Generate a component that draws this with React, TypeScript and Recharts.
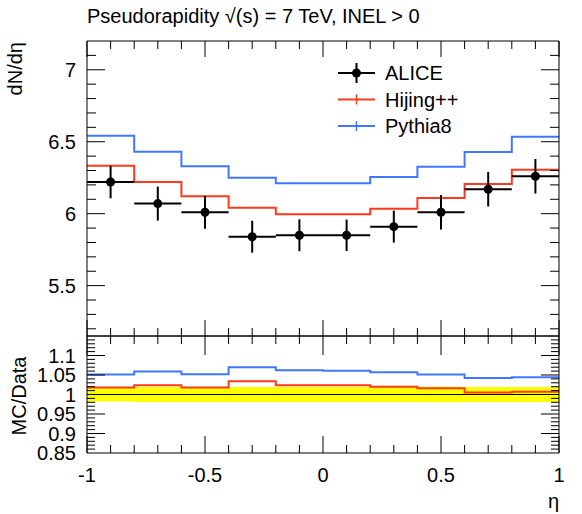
import { ComposedChart, Line, Scatter, ErrorBar, Area, XAxis, YAxis, ReferenceLine } from "recharts";

// eta binning
const binEdges = [-1, -0.8, -0.6, -0.4, -0.2, 0, 0.2, 0.4, 0.6, 0.8, 1];
const binCentres = [-0.9, -0.7, -0.5, -0.3, -0.1, 0.1, 0.3, 0.5, 0.7, 0.9];

// dN/deta per bin
const aliceValues = [6.22, 6.07, 6.01, 5.84, 5.85, 5.85, 5.91, 6.01, 6.17, 6.26];
const aliceErrors = [0.113, 0.118, 0.115, 0.111, 0.111, 0.109, 0.111, 0.12, 0.12, 0.12];
const hijingValues = [6.333, 6.22, 6.121, 6.042, 5.996, 5.996, 6.035, 6.109, 6.206, 6.306];
const pythiaValues = [6.542, 6.431, 6.329, 6.25, 6.211, 6.211, 6.255, 6.327, 6.429, 6.535];

// MC/Data ratios and the data uncertainty band
const hijingRatio = [1.018, 1.024, 1.018, 1.034, 1.024, 1.024, 1.02, 1.016, 1.005, 1.007];
const pythiaRatio = [1.051, 1.059, 1.052, 1.07, 1.062, 1.061, 1.057, 1.051, 1.042, 1.044];
const bandLow = [0.982, 0.981, 0.981, 0.981, 0.981, 0.981, 0.981, 0.98, 0.981, 0.981];
const bandHigh = [1.018, 1.019, 1.019, 1.019, 1.019, 1.019, 1.019, 1.02, 1.019, 1.019];

// axis ticks
const xTicks = [-1, -0.9, -0.8, -0.7, -0.6, -0.5, -0.4, -0.3, -0.2, -0.1, 0, 0.1, 0.2, 0.3, 0.4, 0.5, 0.6, 0.7, 0.8, 0.9, 1];
const yTicks = [5.2, 5.3, 5.4, 5.5, 5.6, 5.7, 5.8, 5.9, 6, 6.1, 6.2, 6.3, 6.4, 6.5, 6.6, 6.7, 6.8, 6.9, 7, 7.1];
const ratioTicks = [
  0.86, 0.87, 0.88, 0.89, 0.9, 0.91, 0.92, 0.93, 0.94, 0.95, 0.96, 0.97, 0.98, 0.99, 1,
  1.01, 1.02, 1.03, 1.04, 1.05, 1.06, 1.07, 1.08, 1.09, 1.1, 1.11, 1.12, 1.13, 1.14,
];
const ratioLabels = [0.85, 0.9, 0.95, 1, 1.05, 1.1];

const X_DOMAIN: [number, number] = [-1, 1];
const MAIN_DOMAIN: [number, number] = [5.15, 7.2];
const RATIO_DOMAIN: [number, number] = [0.85, 1.15];

// plot area sizes in px, used to turn tick lengths into axis units
const PLOT_W = 472;
const MAIN_H = 295;
const RATIO_H = 117;

const RED = "#ff3a1c";
const BLUE = "#3f78ff";
const AXIS = "#000";
const FONT = "'Liberation Sans', Arial, Helvetica, sans-serif";

// histogram drawn as a step line over the bin edges
const steps = (values: number[]) =>
  binEdges.map((x, i) => ({ x, y: values[Math.min(i, values.length - 1)] }));

const aliceData = binCentres.map((x, i) => ({ x, y: aliceValues[i], ex: 0.1, ey: aliceErrors[i] }));
const bandData = binEdges.map((x, i) => {
  const j = Math.min(i, bandLow.length - 1);
  return { x, band: [bandLow[j], bandHigh[j]] };
});

const near = (a: number, b: number) => Math.abs(a - b) < 1e-6;
const onStep = (v: number, step: number) => near(v / step, Math.round(v / step));
const fmt = (v: number) => String(Number(v.toFixed(2)));

const xMajor = (v: number) => onStep(v, 0.5);
const mainMajor = (v: number) => onStep(v, 0.5);
const ratioMajor = (v: number) => ratioLabels.some((l) => near(l, v));

const xLabel = (p: any) =>
  xMajor(p.payload.value) ? (
    <text x={p.x} y={p.y + 29} textAnchor="middle" fontSize={20} fontFamily={FONT} fill="#000">
      {fmt(p.payload.value)}
    </text>
  ) : (
    <g />
  );

const yLabel = (isLabel: (v: number) => boolean) => (p: any) =>
  isLabel(p.payload.value) ? (
    <text x={p.x - 11} y={p.y + 7} textAnchor="end" fontSize={20} fontFamily={FONT} fill="#000">
      {fmt(p.payload.value)}
    </text>
  ) : (
    <g />
  );

// frame plus ROOT-style inward ticks on all four sides
type Lens = { bottom: [number, number]; top: [number, number]; side: [number, number] };
const frame = (yDomain: [number, number], plotH: number, yList: number[], yMajor: (v: number) => boolean, lens: Lens, id: string) => {
  const [y0, y1] = yDomain;
  const yUnit = (px: number) => (px / plotH) * (y1 - y0);
  const xUnit = (px: number) => (px / PLOT_W) * (X_DOMAIN[1] - X_DOMAIN[0]);
  const marks = [];
  for (const v of xTicks) {
    const b = yUnit(xMajor(v) ? lens.bottom[0] : lens.bottom[1]);
    const t = yUnit(xMajor(v) ? lens.top[0] : lens.top[1]);
    marks.push(<ReferenceLine key={`${id}b${v}`} segment={[{ x: v, y: y0 }, { x: v, y: y0 + b }]} stroke={AXIS} ifOverflow="visible" />);
    marks.push(<ReferenceLine key={`${id}t${v}`} segment={[{ x: v, y: y1 }, { x: v, y: y1 - t }]} stroke={AXIS} ifOverflow="visible" />);
  }
  for (const v of yList) {
    const s = xUnit(yMajor(v) ? lens.side[0] : lens.side[1]);
    marks.push(<ReferenceLine key={`${id}l${v}`} segment={[{ x: -1, y: v }, { x: -1 + s, y: v }]} stroke={AXIS} ifOverflow="visible" />);
    marks.push(<ReferenceLine key={`${id}r${v}`} segment={[{ x: 1, y: v }, { x: 1 - s, y: v }]} stroke={AXIS} ifOverflow="visible" />);
  }
  marks.push(<ReferenceLine key={`${id}fl`} x={-1} stroke={AXIS} ifOverflow="visible" />);
  marks.push(<ReferenceLine key={`${id}fr`} x={1} stroke={AXIS} ifOverflow="visible" />);
  marks.push(<ReferenceLine key={`${id}fb`} y={y0} stroke={AXIS} ifOverflow="visible" />);
  marks.push(<ReferenceLine key={`${id}ft`} y={y1} stroke={AXIS} ifOverflow="visible" />);
  return marks;
};

const legendItems = [
  { name: "ALICE", color: "#000", marker: true },
  { name: "Hijing++", color: RED, marker: false },
  { name: "Pythia8", color: BLUE, marker: false },
];

const MainPanel = () => (
  <ComposedChart width={582} height={338} margin={{ top: 41, right: 23, bottom: 2, left: 27 }}>
    <XAxis dataKey="x" type="number" domain={X_DOMAIN} ticks={xTicks} interval={0} height={0}
      tick={false} tickLine={false} axisLine={false} allowDataOverflow />
    <YAxis type="number" domain={MAIN_DOMAIN} ticks={[5.5, 6, 6.5, 7]} interval={0} width={60}
      tickSize={0} tickMargin={0} tickLine={false} axisLine={false} tick={yLabel(mainMajor)} allowDataOverflow />

    <Line data={steps(pythiaValues)} dataKey="y" type="stepAfter" stroke={BLUE} strokeWidth={2} dot={false} activeDot={false} isAnimationActive={false} />
    <Line data={steps(hijingValues)} dataKey="y" type="stepAfter" stroke={RED} strokeWidth={2} dot={false} activeDot={false} isAnimationActive={false} />
    <Scatter data={aliceData} dataKey="y" fill="#000" isAnimationActive={false}
      shape={(p: any) => <circle cx={p.cx} cy={p.cy} r={4.5} fill="#000" />}>
      <ErrorBar dataKey="ey" direction="y" width={0} stroke="#000" strokeWidth={2} isAnimationActive={false} />
      <ErrorBar dataKey="ex" direction="x" width={0} stroke="#000" strokeWidth={2} isAnimationActive={false} />
    </Scatter>

    {frame(MAIN_DOMAIN, MAIN_H, yTicks, mainMajor, { bottom: [16, 8], top: [16, 8], side: [18, 9] }, "m")}
  </ComposedChart>
);

const RatioPanel = () => (
  <ComposedChart width={582} height={188} margin={{ top: 10, right: 23, bottom: 21, left: 27 }}>
    <XAxis dataKey="x" type="number" domain={X_DOMAIN} ticks={xTicks} interval={0} height={40}
      tickSize={0} tickMargin={0} tickLine={false} axisLine={false} tick={xLabel} allowDataOverflow />
    <YAxis type="number" domain={RATIO_DOMAIN} ticks={ratioLabels} interval={0} width={60}
      tickSize={0} tickMargin={0} tickLine={false} axisLine={false} tick={yLabel(ratioMajor)} allowDataOverflow />

    <Area data={bandData} dataKey="band" type="stepAfter" fill="#ffff00" fillOpacity={1} stroke="none" dot={false} activeDot={false} isAnimationActive={false} />
    <ReferenceLine y={1} stroke="#000" strokeWidth={1} />
    <Line data={steps(pythiaRatio)} dataKey="y" type="stepAfter" stroke={BLUE} strokeWidth={2} dot={false} activeDot={false} isAnimationActive={false} />
    <Line data={steps(hijingRatio)} dataKey="y" type="stepAfter" stroke={RED} strokeWidth={2} dot={false} activeDot={false} isAnimationActive={false} />

    {frame(RATIO_DOMAIN, RATIO_H, ratioTicks, ratioMajor, { bottom: [17, 8], top: [19, 8], side: [18, 8] }, "r")}
  </ComposedChart>
);

export default function App() {
  return (
    <div style={{ position: "absolute", left: 0, top: 0, width: 582, height: 514, background: "#fff", fontFamily: FONT }}>
      <div style={{ position: "absolute", left: 0, top: 0 }}>
        <MainPanel />
      </div>
      <div style={{ position: "absolute", left: 0, top: 326 }}>
        <RatioPanel />
      </div>

      <div style={{ position: "absolute", left: 87, top: 5, fontSize: 20, whiteSpace: "nowrap", color: "#000" }}>
        Pseudorapidity √(s) = 7 TeV, INEL &gt; 0
      </div>

      <svg width={582} height={514} style={{ position: "absolute", left: 0, top: 0, pointerEvents: "none" }}>
        <text transform="translate(22,42) rotate(-90)" textAnchor="end" fontSize={20} fontFamily={FONT}>dN/dη</text>
        <text transform="translate(26,396) rotate(-90)" textAnchor="middle" fontSize={20} fontFamily={FONT}>MC/Data</text>
        <text x={559} y={508} textAnchor="end" fontSize={20} fontFamily={FONT}>η</text>

        {legendItems.map((item, i) => {
          const cy = 73 + i * 26.5;
          return (
            <g key={item.name}>
              <line x1={338} x2={375} y1={cy} y2={cy} stroke={item.color} strokeWidth={2} />
              <line x1={356.5} x2={356.5} y1={cy - (item.marker ? 10 : 5)} y2={cy + (item.marker ? 10 : 5)} stroke={item.color} strokeWidth={item.marker ? 2 : 1.5} />
              {item.marker && <circle cx={356.5} cy={cy} r={4.5} fill={item.color} />}
              <text x={385} y={cy + 7} fontSize={20} fontFamily={FONT}>{item.name}</text>
            </g>
          );
        })}
      </svg>
    </div>
  );
}
